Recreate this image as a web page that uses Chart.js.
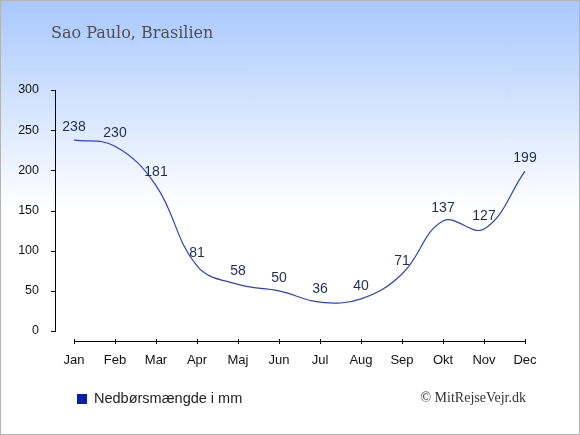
<!DOCTYPE html>
<html>
<head>
<meta charset="utf-8">
<script src="https://cdn.jsdelivr.net/npm/chart.js@4.4.0/dist/chart.umd.min.js"></script>
<style>
  html, body { margin: 0; padding: 0; background: #fff; }
  #wrap {
    width: 580px; height: 435px; position: relative;
    background: linear-gradient(to bottom, #a8c8fe 0px, #ffffff 210px, #ffffff 435px);
  }
  #wrap::after {
    content: ''; position: absolute; left: 0; top: 0; right: 0; bottom: 0;
    border: 1px solid #b4b4b4; pointer-events: none;
  }
  canvas { position: absolute; left: 0; top: 0; }
</style>
</head>
<body>
<div id="wrap"><canvas id="rain" width="580" height="435"></canvas></div>
<script>
// Data
const months = ['Jan', 'Feb', 'Mar', 'Apr', 'Maj', 'Jun', 'Jul', 'Aug', 'Sep', 'Okt', 'Nov', 'Dec'];
const rainfall = [238, 230, 181, 81, 58, 50, 36, 40, 71, 137, 127, 199];
const yTicks = [0, 50, 100, 150, 200, 250, 300];
const titleText = 'Sao Paulo, Brasilien';
const legendText = 'Nedbørsmængde i mm';
const creditText = '© MitRejseVejr.dk';

// Akser og tekster
const decor = {
    id: 'decor',
    afterDraw(chart) {
        const ctx = chart.ctx;
        const x = chart.scales.x, y = chart.scales.y;
        ctx.save();
        ctx.globalAlpha = 1;
        ctx.globalCompositeOperation = 'source-over';
        ctx.fillStyle = '#000000';
        ctx.strokeStyle = '#000000';
        ctx.lineWidth = 1;
        // y-akse
        const ax = 55;
        const yTop = Math.round(y.getPixelForValue(300));
        const yBot = Math.round(y.getPixelForValue(0));
        ctx.fillRect(ax, yTop, 1, yBot - yTop + 1);
        ctx.beginPath();
        ctx.moveTo(ax + 0.5, yTop);
        ctx.lineTo(ax + 0.5, yBot + 1);
        ctx.stroke();
        yTicks.forEach(v => {
            const py = Math.round(y.getPixelForValue(v));
            ctx.fillRect(ax - 4, py, 4, 1);
        });
        // x-akse
        const ay = 341;
        const xL = Math.round(x.getPixelForValue(0));
        const xR = Math.round(x.getPixelForValue(months.length - 1));
        ctx.fillRect(xL, ay, xR - xL + 1, 1);
        ctx.beginPath();
        ctx.moveTo(xL, ay + 0.5);
        ctx.lineTo(xR + 1, ay + 0.5);
        ctx.stroke();
        months.forEach((m, i) => {
            const px = Math.round(x.getPixelForValue(i));
            ctx.fillRect(px, ay - 2, 1, 5);
        });

        // titel
        ctx.fillStyle = '#505050';
        ctx.font = '16px "DejaVu Serif"';
        ctx.textAlign = 'left';
        ctx.textBaseline = 'alphabetic';
        ctx.fillText(titleText, 51, 38);

        // forklaring
        ctx.fillStyle = '#0d1fa8';
        ctx.fillRect(77, 394, 10, 10);
        ctx.fillStyle = '#222222';
        ctx.font = '14.5px "Liberation Sans", Arial, sans-serif';
        ctx.fillText(legendText, 94, 403);

        // kilde
        ctx.fillStyle = '#333333';
        ctx.font = '14px "Liberation Serif", "Times New Roman", serif';
        ctx.textAlign = 'right';
        ctx.fillText(creditText, 526, 402);

        // dataetiketter
        const meta = chart.getDatasetMeta(0);
        ctx.fillStyle = '#1e2d50';
        ctx.font = '14px "Liberation Sans", Arial, sans-serif';
        ctx.textAlign = 'center';
        ctx.textBaseline = 'middle';
        meta.data.forEach((pt, i) => {
            ctx.fillText(String(rainfall[i]), pt.x, pt.y - 13);
        });
        ctx.restore();
    }
};

const ctx = document.getElementById('rain').getContext('2d');
new Chart(ctx, {
    type: 'line',
    data: {
        labels: months,
        datasets: [{
            label: legendText,
            data: rainfall,
            borderColor: '#3040c4',
            borderWidth: 1.2,
            backgroundColor: 'transparent',
            fill: false,
            tension: 0.4,
            pointRadius: 0,
            pointHoverRadius: 0
        }]
    },
    options: {
        responsive: false,
        animation: false,
        events: [],
        layout: {
            padding: { top: 90, right: 55, left: 0, bottom: 0 }
        },
        plugins: {
            legend: { display: false },
            title: { display: false },
            tooltip: { enabled: false }
        },
        scales: {
            x: {
                type: 'category',
                offset: false,
                grid: { display: false },
                border: { display: false },
                ticks: {
                    color: '#111111',
                    font: { family: '"Liberation Sans", Arial, sans-serif', size: 13 },
                    padding: 14,
                    maxRotation: 0,
                    autoSkip: false
                },
                afterFit: s => { s.height = 104; }
            },
            y: {
                min: 0,
                max: 300,
                grid: { display: false },
                border: { display: false },
                afterBuildTicks: s => { s.ticks = yTicks.map(v => ({ value: v })); },
                ticks: {
                    color: '#111111',
                    font: { family: '"Liberation Sans", Arial, sans-serif', size: 12.5 },
                    padding: 27
                },
                afterFit: s => { s.width = 74; }
            }
        }
    },
    plugins: [decor]
});
</script>
</body>
</html>
